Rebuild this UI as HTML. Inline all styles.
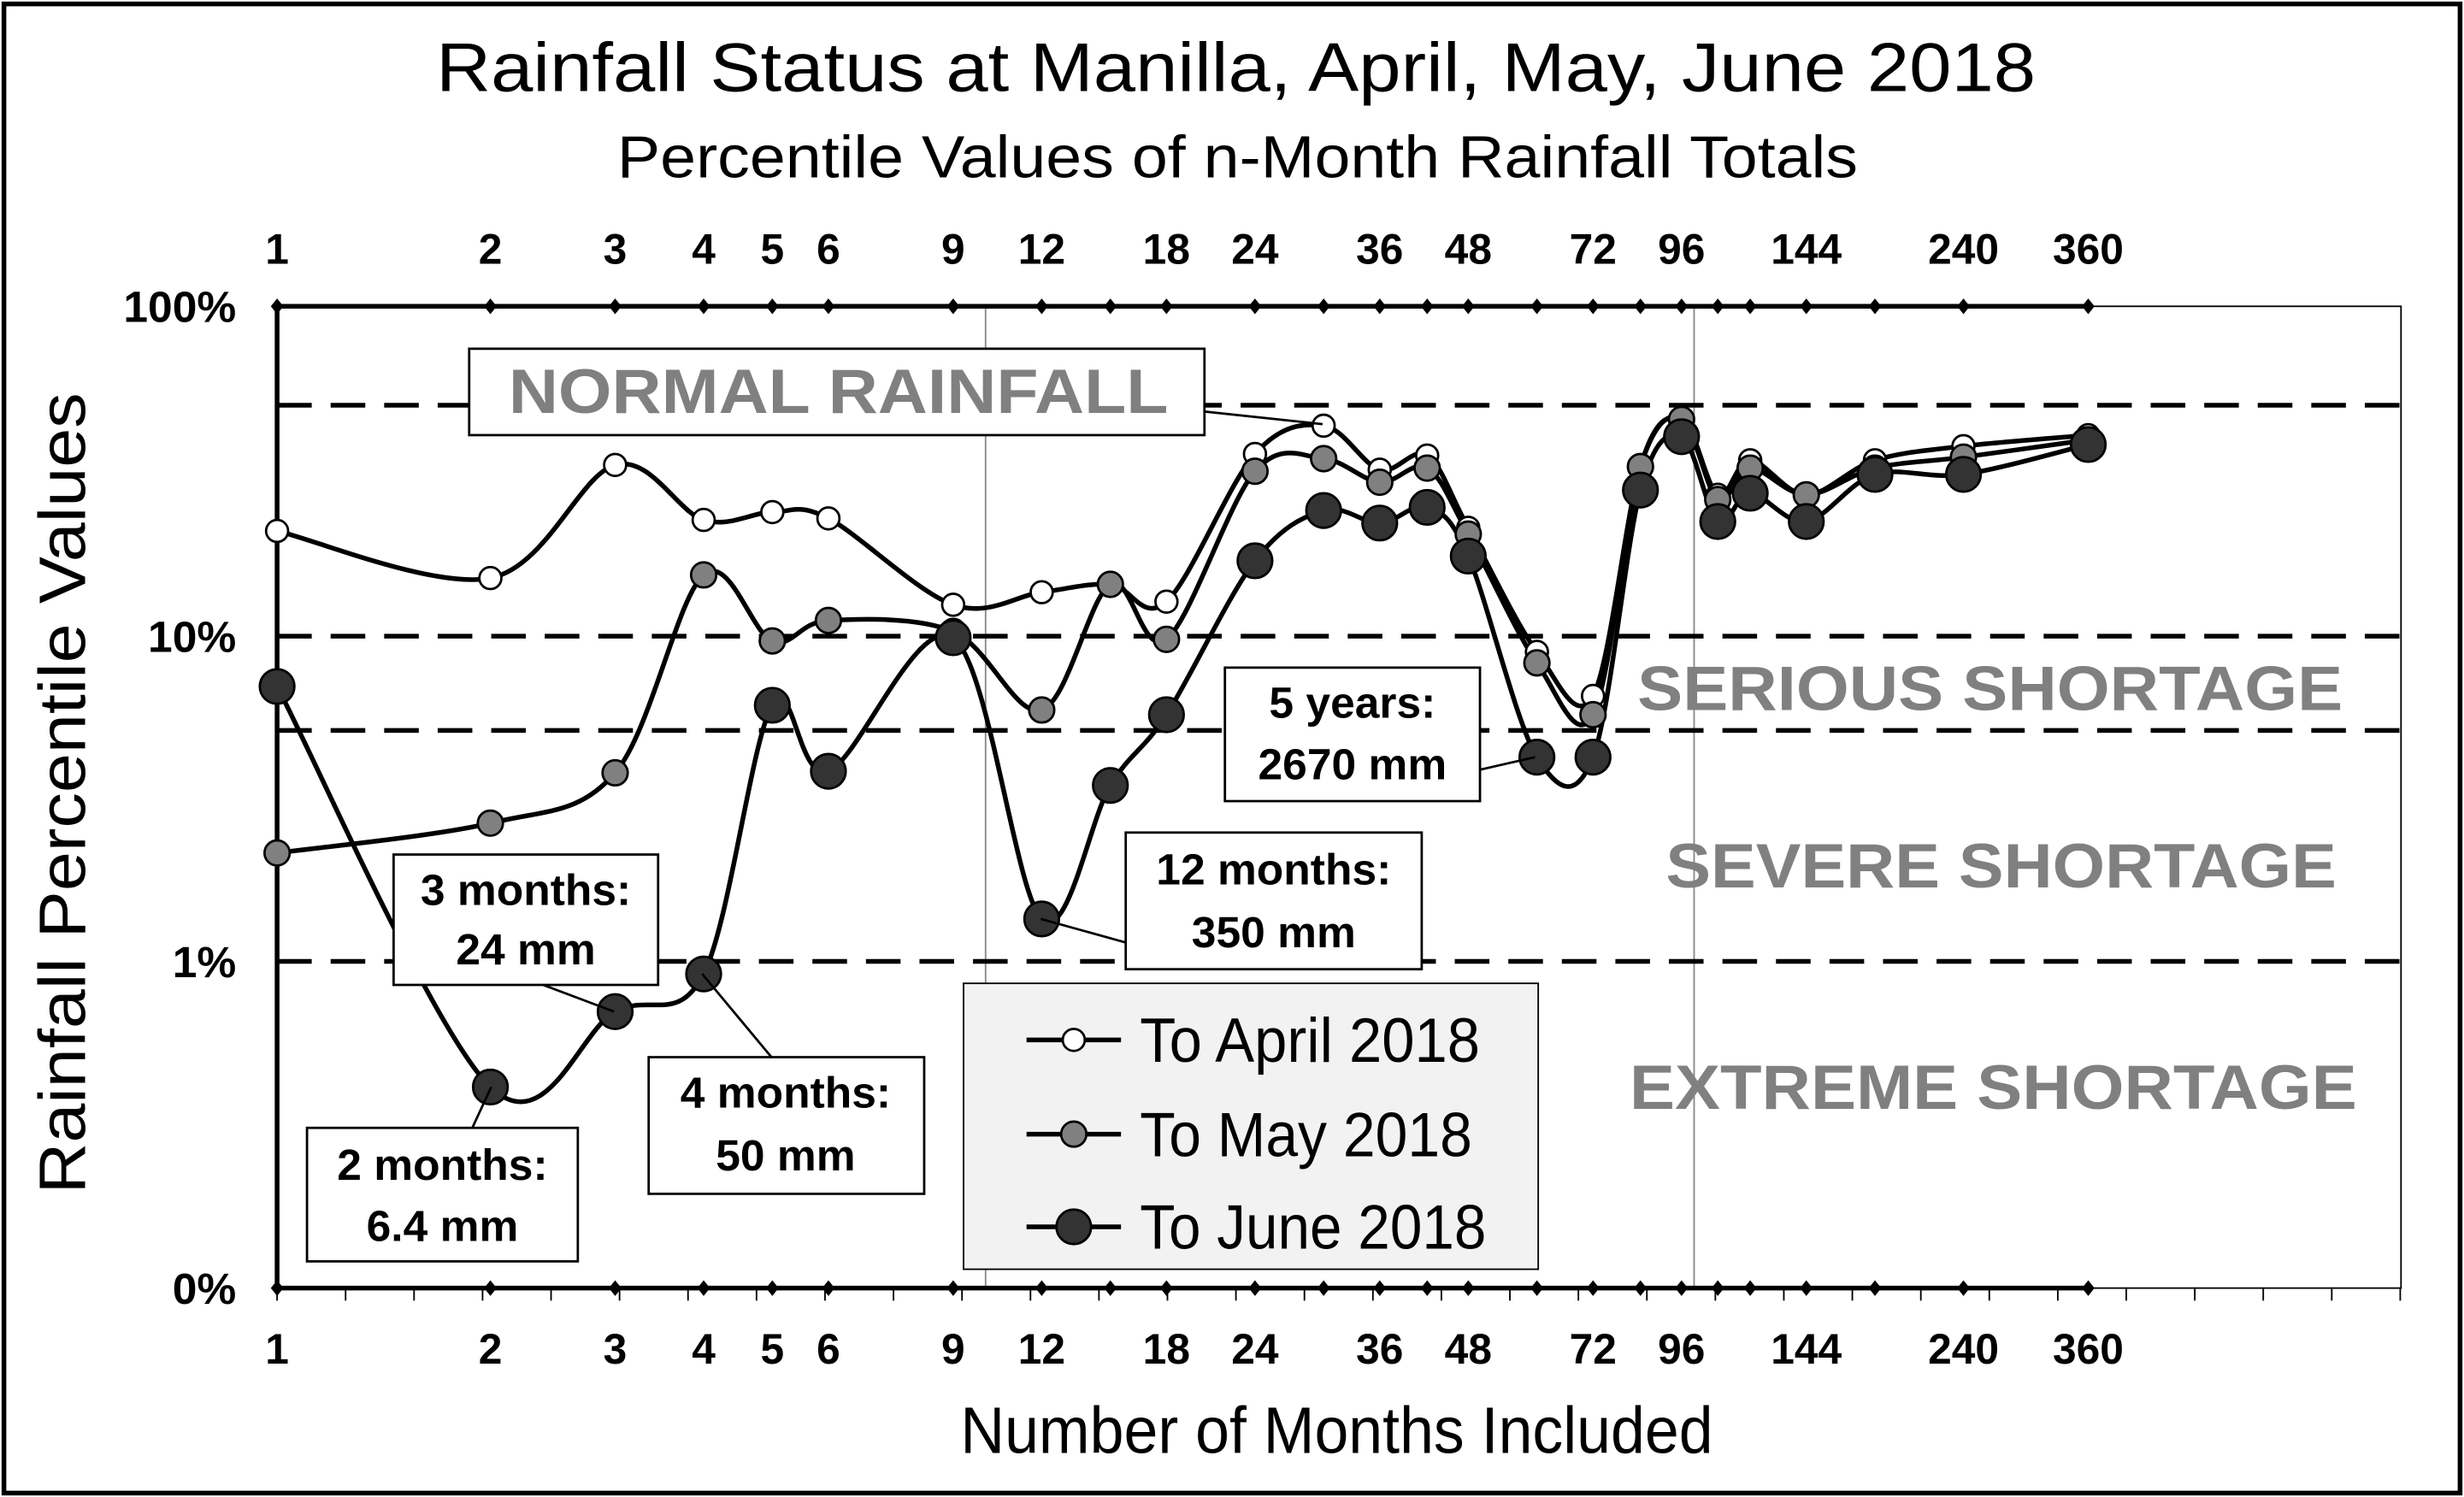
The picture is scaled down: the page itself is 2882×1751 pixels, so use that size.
<!DOCTYPE html>
<html><head><meta charset="utf-8"><style>
html,body{margin:0;padding:0;background:#fff;}
svg{display:block;}
text{font-family:"Liberation Sans",Arial,sans-serif;}
</style></head><body>
<svg id="s" width="2882" height="1751" viewBox="0 0 1565 953" preserveAspectRatio="none" xmlns="http://www.w3.org/2000/svg">
<rect x="0" y="0" width="1565" height="953" fill="#fff"/>
<rect x="2.5" y="2.5" width="1560" height="948" fill="none" stroke="#000" stroke-width="3"/>
<text x="277" y="58" font-size="44" textLength="1016" lengthAdjust="spacingAndGlyphs">Rainfall Status at Manilla, April, May, June 2018</text>
<text x="392" y="113" font-size="38" textLength="788" lengthAdjust="spacingAndGlyphs">Percentile Values of n-Month Rainfall  Totals</text>
<g id="grid"></g>
<g font-size="28" font-weight="bold" text-anchor="end">
<text x="150" y="205">100%</text><text x="150" y="415">10%</text><text x="150" y="622">1%</text><text x="150" y="830">0%</text>
</g>
<text transform="translate(54,760) rotate(-90)" font-size="42" textLength="510" lengthAdjust="spacingAndGlyphs">Rainfall Percentile Values</text>
<text x="610" y="925" font-size="42" textLength="478" lengthAdjust="spacingAndGlyphs">Number of Months Included</text>
<g stroke="#000" stroke-width="3" stroke-dasharray="22,12">
<line x1="176" y1="258" x2="1525" y2="258"/><line x1="176" y1="405" x2="1525" y2="405"/>
<line x1="176" y1="465" x2="1525" y2="465"/><line x1="176" y1="612" x2="1525" y2="612"/>
</g>
<g font-size="40" font-weight="bold" fill="#808080">
<text x="1040" y="452" textLength="448" lengthAdjust="spacingAndGlyphs">SERIOUS SHORTAGE</text>
<text x="1058" y="565" textLength="426" lengthAdjust="spacingAndGlyphs">SEVERE SHORTAGE</text>
<text x="1035" y="706" textLength="462" lengthAdjust="spacingAndGlyphs">EXTREME SHORTAGE</text>
</g>
<g id="series"></g>
<g stroke="#000" stroke-width="1.5" fill="#fff">
<line x1="765" y1="262" x2="840" y2="270"/>
<rect x="298" y="222" width="467" height="55"/>
<line x1="345" y1="627" x2="390" y2="644"/>
<rect x="250" y="544" width="168" height="83"/>
<line x1="300" y1="718" x2="312" y2="692"/>
<rect x="195" y="718" width="172" height="85"/>
<line x1="490" y1="673" x2="446" y2="620"/>
<rect x="412" y="673" width="175" height="87"/>
<line x1="715" y1="600" x2="661" y2="585"/>
<rect x="715" y="530" width="188" height="87"/>
<line x1="940" y1="490" x2="975" y2="482"/>
<rect x="778" y="425" width="162" height="85"/>
</g>
<text x="323" y="263" font-size="40" font-weight="bold" fill="#808080" textLength="419" lengthAdjust="spacingAndGlyphs">NORMAL RAINFALL</text>
<g font-size="28" font-weight="bold" text-anchor="middle">
<text x="334" y="576">3 months:</text><text x="334" y="614">24 mm</text>
<text x="281" y="751">2 months:</text><text x="281" y="790">6.4 mm</text>
<text x="499" y="705">4 months:</text><text x="499" y="745">50 mm</text>
<text x="809" y="563">12 months:</text><text x="809" y="603">350 mm</text>
<text x="859" y="457">5 years:</text><text x="859" y="496">2670 mm</text>
</g>
<rect x="612" y="626" width="365" height="182" fill="#f2f2f2" stroke="#000" stroke-width="1"/>
<g stroke="#000" stroke-width="3">
<line x1="652" y1="662" x2="712" y2="662"/><line x1="652" y1="722" x2="712" y2="722"/><line x1="652" y1="781" x2="712" y2="781"/>
</g>
<circle cx="682" cy="662" r="7" fill="#fff" stroke="#000" stroke-width="1.5"/>
<circle cx="682" cy="722" r="8" fill="#808080" stroke="#000" stroke-width="1.5"/>
<circle cx="682" cy="781" r="11" fill="#333" stroke="#000" stroke-width="1.5"/>
<g font-size="40">
<text x="724" y="676" textLength="216" lengthAdjust="spacingAndGlyphs">To April 2018</text>
<text x="724" y="736" textLength="211" lengthAdjust="spacingAndGlyphs">To May 2018</text>
<text x="724" y="795" textLength="220" lengthAdjust="spacingAndGlyphs">To June 2018</text>
</g>
</svg>
<script>
var NS="http://www.w3.org/2000/svg";
function X(n){return 176+450*Math.log10(n);}
function el(t,a,p){var e=document.createElementNS(NS,t);for(var k in a)e.setAttribute(k,a[k]);p.appendChild(e);return e;}
var g=document.getElementById('grid');
el('rect',{x:176,y:195,width:1349,height:625,fill:'none',stroke:'#000','stroke-width':1},g);
el('line',{x1:X(10),y1:195,x2:X(10),y2:820,stroke:'#888','stroke-width':1},g);
el('line',{x1:X(100),y1:195,x2:X(100),y2:820,stroke:'#888','stroke-width':1},g);
el('line',{x1:176,y1:195,x2:1325,y2:195,stroke:'#000','stroke-width':3},g);
el('line',{x1:176,y1:820,x2:1325,y2:820,stroke:'#000','stroke-width':3},g);
el('line',{x1:176,y1:195,x2:176,y2:820,stroke:'#000','stroke-width':3},g);
var nn=[1,2,3,4,5,6,9,12,15,18,24,30,36,42,48,60,72,84,96,108,120,144,180,240,360];
nn.forEach(function(n){var x=X(n);
[195,820].forEach(function(y){el('path',{d:'M'+x+' '+(y-5)+'L'+(x+4)+' '+y+'L'+x+' '+(y+5)+'L'+(x-4)+' '+y+'Z',fill:'#000'},g);});});
for(var i=0;i<32;i++){var x=176+i*43.5;el('line',{x1:x,y1:820,x2:x,y2:828,stroke:'#000','stroke-width':1},g);}
var lab=[1,2,3,4,5,6,9,12,18,24,36,48,72,96,144,240,360];
lab.forEach(function(n){[168,868].forEach(function(y){var t=el('text',{x:X(n),y:y,'font-size':27,'font-weight':'bold','text-anchor':'middle'},g);t.textContent=n;});});
var A=[338,368,296,331,326,330,385,377,372,383,289,271,299,290,336,415,443,297,266,315,293,315,293,284,277];
var M=[543,524,492,366,408,395,402,452,372,407,300,292,307,298,340,422,455,297,267,318,298,315,298,291,280];
var J=[437,692,644,620,449,491,406,585,500,455,357,325,333,323,354,482,482,312,278,332,314,332,302,302,283];
function path(ys){var p=nn.map(function(n,i){return[X(n),ys[i]];});var d='M'+p[0][0]+' '+p[0][1];
for(var i=0;i<p.length-1;i++){var p0=p[i-1]||p[i],p1=p[i],p2=p[i+1],p3=p[i+2]||p2;
d+='C'+(p1[0]+(p2[0]-p0[0])/6)+' '+(p1[1]+(p2[1]-p0[1])/6)+' '+(p2[0]-(p3[0]-p1[0])/6)+' '+(p2[1]-(p3[1]-p1[1])/6)+' '+p2[0]+' '+p2[1];}return d;}
var s=document.getElementById('series');
[[A,'#fff',7],[M,'#808080',8],[J,'#333',11]].forEach(function(r){
el('path',{d:path(r[0]),fill:'none',stroke:'#000','stroke-width':3},s);});
[[A,'#fff',7],[M,'#808080',8],[J,'#333',11]].forEach(function(r){
nn.forEach(function(n,i){el('circle',{cx:X(n),cy:r[0][i],r:r[2],fill:r[1],stroke:'#000','stroke-width':1.5},s);});});
</script>
</body></html>
